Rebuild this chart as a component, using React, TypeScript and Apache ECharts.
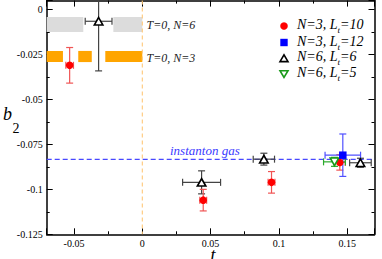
import React, { useEffect, useRef } from 'react';
import * as echarts from 'echarts';

// N=3, Lt=10 (red circles)
const tRed = [-0.0532, 0.0446, 0.0946, 0.1446];
const bRed = [-0.031, -0.106, -0.0961, -0.085];
const tErrRed = [0.0028, 0.0025, 0.0025, 0.004];
const bErrRed = [0.0099, 0.006, 0.006, 0.0043];

// N=3, Lt=12 (blue squares)
const tBlue = [0.1468];
const bBlue = [-0.081];
const tErrBlue = [0.013];
const bErrBlue = [0.0118];

// N=6, Lt=6 (black up-triangles)
const tBlack = [-0.032, 0.0434, 0.089, 0.1597];
const bBlack = [-0.0065, -0.0961, -0.0832, -0.0852];
const tErrBlack = [0.0098, 0.0139, 0.0078, 0.0079];
const bErrBlack = [0.0276, 0.0064, 0.0033, 0.0025];

// N=6, Lt=5 (green down-triangles)
const tGreen = [0.1407];
const bGreen = [-0.0847];
const tErrGreen = [0.008];
const bErrGreen = [0.0025];

// T=0 bands: segments [t0, t1], centre and half-width
const bandN6Segments = [[-0.07, -0.0432], [-0.0212, 0]];
const bandN6 = { centre: -0.0083, half: 0.0042 };
const bandN3Segments = [[-0.07, -0.0581], [-0.0469, -0.037], [-0.0271, 0]];
const bandN3 = { centre: -0.0261, half: 0.0031 };

const instantonGas = -0.0833;
const tZero = 0;

const xMin = -0.07;
const xMax = 0.17;
const yMin = -0.125;
const yMax = 0.005;

const FONT = 'Liberation Serif';

function errorBars(name: string, ts: number[], bs: number[], tes: number[], bes: number[], color: string) {
  return {
    type: 'custom',
    name,
    z: 3,
    data: ts.map((t, i) => [t, bs[i], tes[i], bes[i]]),
    renderItem: (params: any, api: any) => {
      const t = api.value(0), b = api.value(1), te = api.value(2), be = api.value(3);
      const c = api.coord([t, b]);
      const l = api.coord([t - te, b]);
      const r = api.coord([t + te, b]);
      const top = api.coord([t, b + be]);
      const bot = api.coord([t, b - be]);
      const cs = params.coordSys;
      const yTop = Math.max(cs.y, top[1]);
      const yBot = Math.min(cs.y + cs.height, bot[1]);
      const cap = 3.5;
      const style = { stroke: color, lineWidth: 1.2, fill: 'none' };
      const children: any[] = [
        { type: 'line', shape: { x1: l[0], y1: c[1], x2: r[0], y2: c[1] }, style },
        { type: 'line', shape: { x1: l[0], y1: c[1] - cap, x2: l[0], y2: c[1] + cap }, style },
        { type: 'line', shape: { x1: r[0], y1: c[1] - cap, x2: r[0], y2: c[1] + cap }, style },
        { type: 'line', shape: { x1: c[0], y1: yTop, x2: c[0], y2: yBot }, style },
      ];
      if (top[1] >= cs.y) children.push({ type: 'line', shape: { x1: c[0] - cap, y1: top[1], x2: c[0] + cap, y2: top[1] }, style });
      if (bot[1] <= cs.y + cs.height) children.push({ type: 'line', shape: { x1: c[0] - cap, y1: bot[1], x2: c[0] + cap, y2: bot[1] }, style });
      return { type: 'group', children };
    },
  };
}

function band(name: string, segs: number[][], centre: number, half: number, color: string) {
  return {
    type: 'custom',
    name,
    z: 1,
    data: segs.map((s) => [s[0], s[1], centre, half]),
    renderItem: (params: any, api: any) => {
      const p0 = api.coord([api.value(0), api.value(2) + api.value(3)]);
      const p1 = api.coord([api.value(1), api.value(2) - api.value(3)]);
      return { type: 'rect', shape: { x: p0[0], y: p0[1], width: p1[0] - p0[0], height: p1[1] - p0[1] }, style: { fill: color } };
    },
  };
}

function refLine(name: string, value: number, vertical: boolean, color: string, dash: number[]) {
  return {
    type: 'custom',
    name,
    z: 2,
    data: [[value]],
    renderItem: (params: any, api: any) => {
      const cs = params.coordSys;
      const v = api.value(0);
      const shape = vertical
        ? { x1: api.coord([v, yMin])[0], y1: cs.y, x2: api.coord([v, yMin])[0], y2: cs.y + cs.height }
        : { x1: cs.x, y1: api.coord([xMin, v])[1], x2: cs.x + cs.width, y2: api.coord([xMin, v])[1] };
      return { type: 'line', shape, style: { stroke: color, lineWidth: 1.1, lineDash: dash, fill: 'none' } };
    },
  };
}

const legendRows = [
  '{a|N=3, L}{s|t}{a|=10}',
  '{a|N=3, L}{s|t}{a|=12}',
  '{a|N=6, L}{s|t}{a|=6}',
  '{a|N=6, L}{s|t}{a|=5}',
];

export default function App() {
  const ref = useRef<HTMLDivElement>(null);
  useEffect(() => {
    if (!ref.current) return;
    const chart = echarts.init(ref.current, null, { renderer: 'svg' });
    const axisBase = {
      type: 'value',
      splitLine: { show: false },
      axisLine: { show: true, onZero: false, lineStyle: { color: '#000', width: 1.5 } },
      axisTick: { show: true, inside: true, length: 6, lineStyle: { color: '#000', width: 1 } },
      minorTick: { show: true, splitNumber: 2, length: 3, lineStyle: { color: '#000', width: 1 } },
    };
    const xCommon = { ...axisBase, min: xMin, max: xMax, splitNumber: 5, minInterval: 0.05, maxInterval: 0.05 };
    const yCommon = { ...axisBase, min: yMin, max: yMax, interval: 0.025 };
    const labelStyle = { fontSize: 10, fontFamily: FONT, color: '#000' };
    const rich = {
      a: { fontSize: 14, fontFamily: FONT, fontStyle: 'italic', color: '#111', verticalAlign: 'bottom', padding: [0, 0, 3, 0] },
      s: { fontSize: 9, fontFamily: FONT, fontStyle: 'italic', color: '#111', verticalAlign: 'bottom' },
    };
    const lx = 284;
    const ly = [26, 42.5, 58.3, 74];
    const graphic: any[] = [
      { type: 'circle', shape: { cx: lx, cy: ly[0], r: 3.8 }, style: { fill: '#ff0000' } },
      { type: 'rect', shape: { x: lx - 3.7, y: ly[1] - 3.7, width: 7.4, height: 7.4 }, style: { fill: '#0000ff' } },
      { type: 'polygon', shape: { points: [[lx - 4, ly[2] + 3.3], [lx + 4, ly[2] + 3.3], [lx, ly[2] - 3.5]] }, style: { fill: '#fff', stroke: '#000', lineWidth: 1.6 } },
      { type: 'polygon', shape: { points: [[lx - 4, ly[3] - 3.3], [lx + 4, ly[3] - 3.3], [lx, ly[3] + 3.5]] }, style: { fill: '#fff', stroke: '#1a9a1a', lineWidth: 1.6 } },
      ...legendRows.map((text, i) => ({
        type: 'text', x: 297, y: ly[i], style: { text, rich, verticalAlign: 'middle', align: 'left' },
      })),
      { type: 'text', x: 146.5, y: 25, style: { text: 'T=0, N=6', font: `italic 12px "${FONT}"`, fill: '#222', verticalAlign: 'middle' } },
      { type: 'text', x: 146.5, y: 58, style: { text: 'T=0, N=3', font: `italic 12px "${FONT}"`, fill: '#222', verticalAlign: 'middle' } },
      { type: 'text', x: 170, y: 150, style: { text: 'instanton gas', font: `italic 13px "${FONT}"`, fill: '#3a3aff', verticalAlign: 'middle' } },
      { type: 'text', x: 3, y: 114, style: { text: 'b', font: `italic 18px "${FONT}"`, fill: '#000', verticalAlign: 'middle' } },
      { type: 'text', x: 12.5, y: 128.8, style: { text: '2', font: `14px "${FONT}"`, fill: '#000', verticalAlign: 'middle' } },
      { type: 'text', x: 213, y: 255, style: { text: 't', font: `italic 18px "${FONT}"`, fill: '#000', align: 'center', verticalAlign: 'middle' } },
    ];

    chart.setOption({
      animation: false,
      backgroundColor: '#fff',
      grid: { left: 46.7, right: 7.5, top: 0.6, bottom: 24.7, containLabel: false },
      xAxis: [
        { ...xCommon, position: 'bottom', axisLabel: { ...labelStyle, margin: 4, showMinLabel: false, showMaxLabel: false } },
        { ...xCommon, position: 'top', axisLabel: { show: false } },
      ],
      yAxis: [
        { ...yCommon, position: 'left', axisLabel: { ...labelStyle, margin: 4, showMaxLabel: false } },
        { ...yCommon, position: 'right', axisLabel: { show: false } },
      ],
      graphic,
      series: [
        band('bandN6', bandN6Segments, bandN6.centre, bandN6.half, '#dcdcdc'),
        band('bandN3', bandN3Segments, bandN3.centre, bandN3.half, '#ffa500'),
        refLine('tZero', tZero, true, '#ffc878', [4, 3]),
        refLine('instanton', instantonGas, false, '#4848ff', [5, 3]),
        errorBars('errBlack', tBlack, bBlack, tErrBlack, bErrBlack, '#444'),
        errorBars('errRed', tRed, bRed, tErrRed, bErrRed, '#f05555'),
        errorBars('errGreen', tGreen, bGreen, tErrGreen, bErrGreen, '#2aaa2a'),
        errorBars('errBlue', tBlue, bBlue, tErrBlue, bErrBlue, '#5050ff'),
        {
          type: 'scatter', name: 'N=6, Lt=6', z: 5, symbol: 'triangle', symbolSize: [8.5, 7.5],
          itemStyle: { color: '#fff', borderColor: '#000', borderWidth: 1.6, opacity: 1 },
          data: tBlack.map((t, i) => [t, bBlack[i]]),
        },
        {
          type: 'scatter', name: 'N=3, Lt=10', z: 5, symbol: 'circle', symbolSize: 7.5,
          itemStyle: { color: '#ff0000', opacity: 1 },
          data: tRed.map((t, i) => [t, bRed[i]]),
        },
        {
          type: 'scatter', name: 'N=6, Lt=5', z: 5, symbol: 'path://M0,0 L10,0 L5,9 Z', symbolSize: [8.5, 7.5],
          itemStyle: { color: '#fff', borderColor: '#1a9a1a', borderWidth: 1.6, opacity: 1 },
          data: tGreen.map((t, i) => [t, bGreen[i]]),
        },
        {
          type: 'scatter', name: 'N=3, Lt=12', z: 5, symbol: 'rect', symbolSize: 7.5,
          itemStyle: { color: '#0000ff', opacity: 1 },
          data: tBlue.map((t, i) => [t, bBlue[i]]),
        },
      ],
    });
    return () => chart.dispose();
  }, []);
  return <div ref={ref} style={{ position: 'absolute', left: 0, top: 0, width: 382, height: 259 }} />;
}
